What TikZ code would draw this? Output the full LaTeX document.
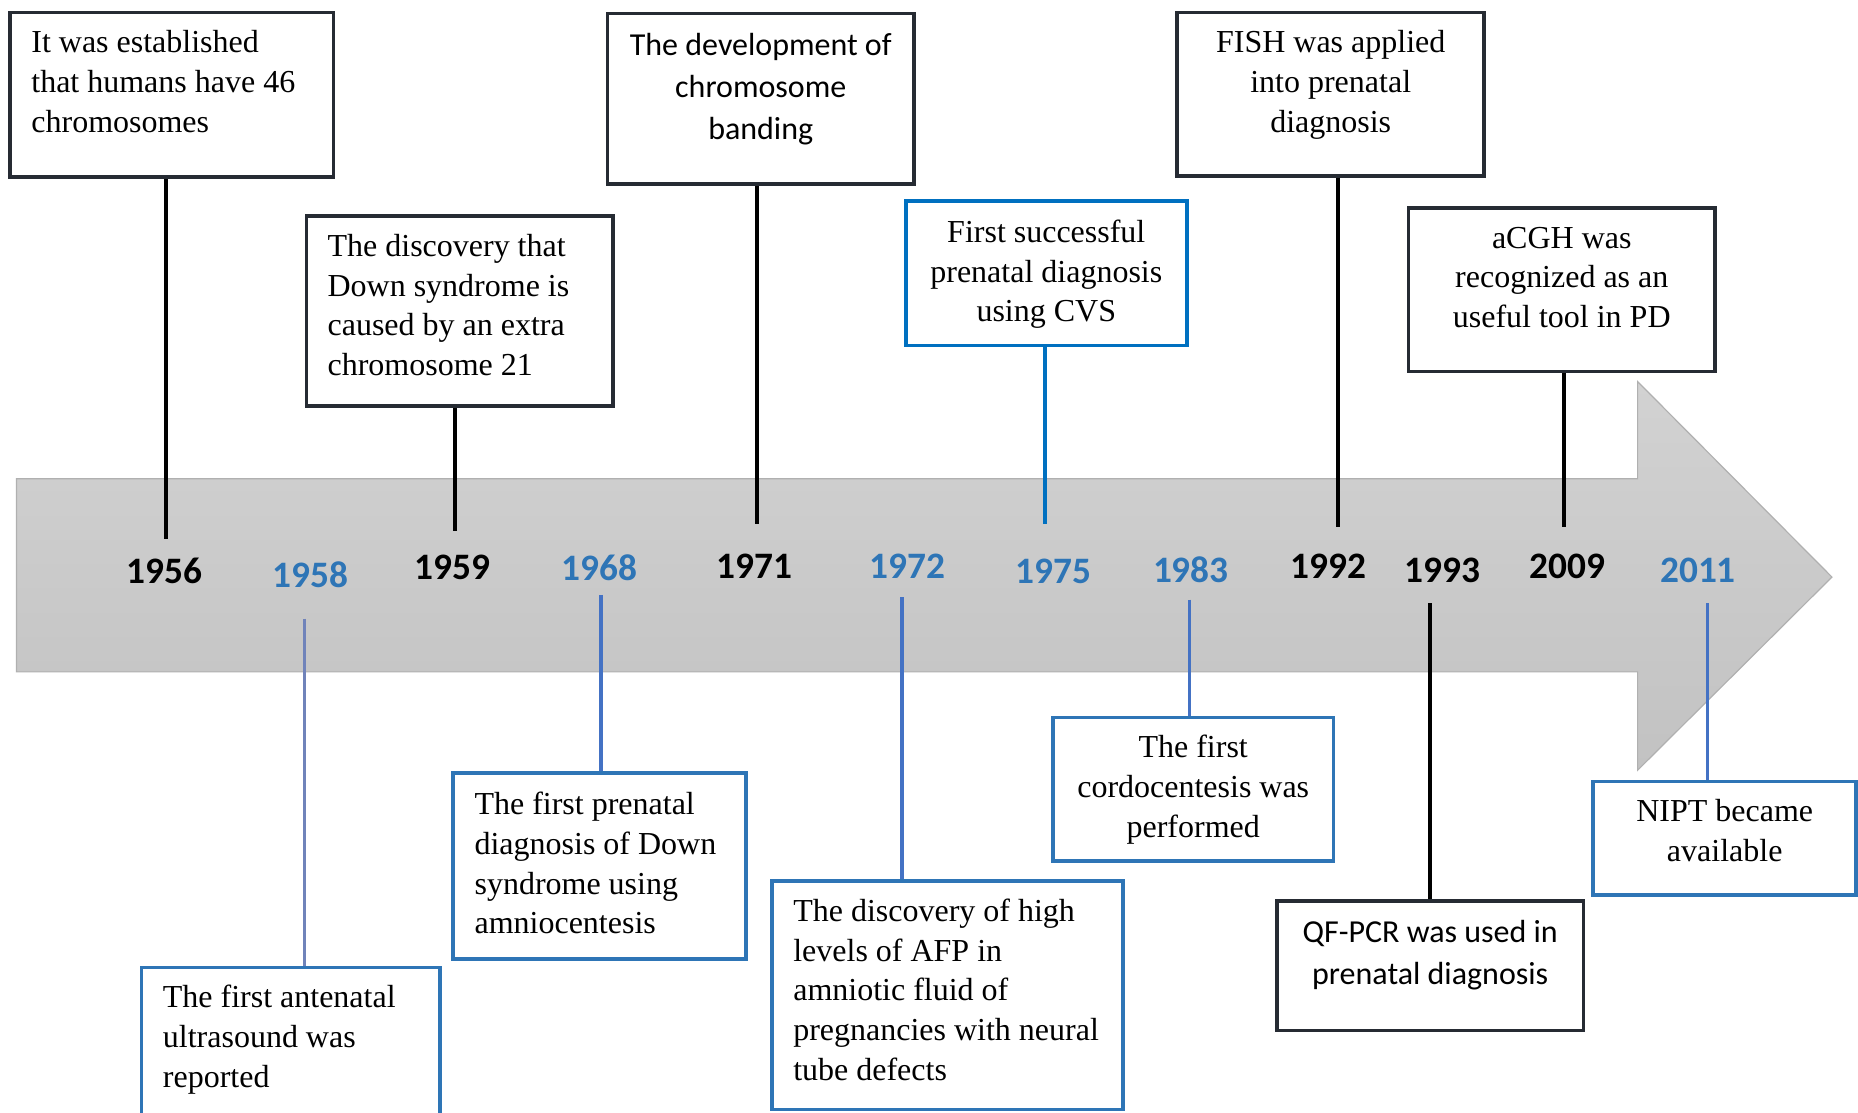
\documentclass[tikz,border=0pt]{standalone}
\usepackage{fontspec}
\setmainfont{Liberation Serif}
\newfontfamily\calib{Carlito}
\definecolor{boxblack}{HTML}{262B33}
\definecolor{boxblue}{HTML}{2E75B6}
\definecolor{cvsblue}{HTML}{0070C0}
\definecolor{lineblue}{HTML}{4472C4}
\definecolor{paleblue}{HTML}{7083BA}
\definecolor{yearblue}{HTML}{2E75B6}
\definecolor{arrowtop}{HTML}{D2D2D2}
\definecolor{arrowbot}{HTML}{C2C2C2}
\definecolor{arrowedge}{HTML}{B0B0B0}
\newcommand\tbx[6]{\parbox[c][#2pt][t]{#1pt}{#5\vspace*{\dimexpr#3pt-0.7\baselineskip\relax}\strut#6}}
\begin{document}
\begin{tikzpicture}[x=1pt,y=-1pt,
  evt/.style={draw, line width=3pt, inner sep=0pt, anchor=north west, fill=white,
    font=\fontsize{27}{33.5}\selectfont},
  blackev/.style={evt, draw=boxblack},
  blueev/.style={evt, draw=boxblue},
  cvsev/.style={evt, draw=cvsblue},
  sansev/.style={evt, draw=boxblack, font=\calib\fontsize{27}{35.5}\selectfont},
  yr/.style={font=\calib\bfseries\fontsize{31.5}{37}\selectfont, inner sep=0pt},
  yrblack/.style={yr, text=black},
  yrblue/.style={yr, text=yearblue},
  blkline/.style={line width=3pt, draw=black},
  blueline/.style={line width=3pt, draw=lineblue},
  arrowshape/.style={top color=arrowtop, bottom color=arrowbot, draw=arrowedge, line width=1pt}
]
\path[use as bounding box, clip] (0,0) rectangle (1568,939);
\fill[white] (0,0) rectangle (1568,939);

% big arrow
\path[arrowshape] (14,404) -- (1382,404) -- (1382,322) -- (1546,487) -- (1382,650) -- (1382,567) -- (14,567) -- cycle;

% top events
\node[blackev] (b1) at (7,9) {\tbx{273}{139}{34}{0}{\raggedright\leftskip=18pt\relax}{It was established\\that humans have 46\\chromosomes}};
\node[blackev] (b2) at (257,181) {\tbx{259}{160}{34}{0}{\raggedright\leftskip=18pt\relax}{The discovery that\\Down syndrome is\\caused by an extra\\chromosome 21}};
\node[sansev] (b3) at (511,10) {\tbx{259}{144}{35}{0}{\centering}{The development of\\chromosome\\banding}};
\node[cvsev] (b4) at (763,168) {\tbx{237}{122}{35}{0}{\centering}{First successful\\prenatal diagnosis\\using CVS}};
\node[blackev] (b5) at (992,9) {\tbx{259}{138}{34}{0}{\centering}{FISH was applied\\into prenatal\\diagnosis}};
\node[blackev] (b6) at (1187,174) {\tbx{259}{138}{34}{0}{\centering}{aCGH was\\recognized as an\\useful tool in PD}};

% bottom events
\node[blueev] (b7) at (118,815) {\tbx{252}{140}{34}{0}{\raggedright\leftskip=18pt\relax}{The first antenatal\\ultrasound was\\reported}};
\node[blueev] (b8) at (381,651) {\tbx{247}{157}{35}{0}{\raggedright\leftskip=18pt\relax}{The first prenatal\\diagnosis of Down\\syndrome using\\amniocentesis}};
\node[blueev] (b9) at (650,742) {\tbx{296}{193}{34}{0}{\raggedright\leftskip=18pt\relax}{The discovery of high\\levels of AFP in\\amniotic fluid of\\pregnancies with neural\\tube defects}};
\node[blueev] (b10) at (887,604) {\tbx{237}{121}{34}{0}{\centering}{The first\\cordocentesis was\\performed}};
\node[sansev] (b11) at (1076,759) {\tbx{259}{109}{35}{0}{\centering}{QF-PCR was used in\\prenatal diagnosis}};
\node[blueev] (b12) at (1343,658) {\tbx{222}{96}{34}{0}{\centering}{NIPT became\\available}};

% years
\node[yrblack] (y1956) at (139,482) {1956};
\node[yrblue]  (y1958) at (262,485) {1958};
\node[yrblack] (y1959) at (382,479) {1959};
\node[yrblue]  (y1968) at (506,479) {1968};
\node[yrblack] (y1971) at (637,478) {1971};
\node[yrblue]  (y1972) at (766,478) {1972};
\node[yrblue]  (y1975) at (889,482) {1975};
\node[yrblue]  (y1983) at (1005,481) {1983};
\node[yrblack] (y1992) at (1121,478) {1992};
\node[yrblack] (y1993) at (1217,481) {1993};
\node[yrblack] (y2009) at (1323,478) {2009};
\node[yrblue]  (y2011) at (1433,481) {2011};

% connector end points
\coordinate (c1) at (140,455);
\coordinate (c2) at (384,448);
\coordinate (c3) at (639,442);
\coordinate (c4) at (882,442);
\coordinate (c5) at (1129,445);
\coordinate (c6) at (1320,445);
\coordinate (c7) at (257,522);
\coordinate (c8) at (507,502);
\coordinate (c9) at (761,504);
\coordinate (c10) at (1004,506);
\coordinate (c11) at (1207,509);
\coordinate (c12) at (1441,509);

% connectors
\draw[blkline] (c1 |- b1.south) -- (c1);
\draw[blkline] (c2 |- b2.south) -- (c2);
\draw[blkline] (c3 |- b3.south) -- (c3);
\draw[line width=3pt, draw=cvsblue] (c4 |- b4.south) -- (c4);
\draw[blkline] (c5 |- b5.south) -- (c5);
\draw[blkline] (c6 |- b6.south) -- (c6);
\draw[line width=3pt, draw=paleblue] (c7) -- (c7 |- b7.north);
\draw[blueline] (c8) -- (c8 |- b8.north);
\draw[blueline] (c9) -- (c9 |- b9.north);
\draw[blueline] (c10) -- (c10 |- b10.north);
\draw[blkline] (c11) -- (c11 |- b11.north);
\draw[blueline] (c12) -- (c12 |- b12.north);
\end{tikzpicture}
\end{document}
